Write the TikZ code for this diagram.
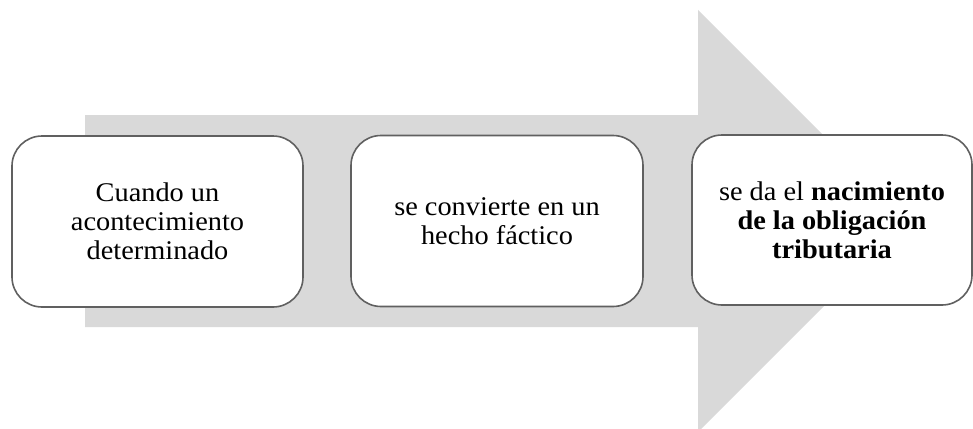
\documentclass[tikz,border=0pt]{standalone}
\usepackage{fontspec}
\setmainfont{Liberation Serif}[FakeStretch=1.05]
\definecolor{arrowgray}{HTML}{D9D9D9}
\definecolor{boxline}{HTML}{606060}
\tikzset{
  stepbox/.style={draw=boxline, line width=1.6pt, fill=white, rounded corners=30pt,
    minimum height=171pt, align=center, inner sep=0pt,
    font=\fontsize{27}{29}\selectfont}
}
\begin{document}
\begin{tikzpicture}[x=1pt,y=-1pt]
    \useasboundingbox (0,0) rectangle (973,428);
    \fill[arrowgray] (85,115) -- (698,115) -- (698,10) -- (909,221) -- (698,432) -- (698,327) -- (85,327) -- cycle;
    \node[stepbox,minimum width=291pt] (cuando) at (157.5,221.5) {Cuando un\\acontecimiento\\determinado};
    \node[stepbox,minimum width=292pt] (hecho) at (497,221) {se convierte en un\\hecho fáctico};
    \node[stepbox,minimum width=280pt,minimum height=170pt] (nacimiento) at (832,220) {se da el \textbf{nacimiento}\\\textbf{de la obligación}\\\textbf{tributaria}};
\end{tikzpicture}
\end{document}
